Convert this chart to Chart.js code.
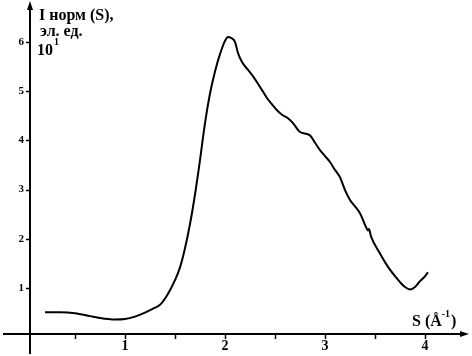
<!DOCTYPE html>
<html>
<head>
<meta charset="utf-8">
<script src="https://cdn.jsdelivr.net/npm/chart.js@4"></script>
<style>
  html, body { margin: 0; padding: 0; background: #fff; }
  #wrap { width: 472px; height: 356px; }
</style>
</head>
<body>
<div id="wrap"><canvas id="chart"></canvas></div>
<script>
// Данные кривой I(S)
const sValues = [0.2, 0.35, 0.5, 0.65, 0.75, 0.9, 1.0, 1.1, 1.2, 1.3, 1.35, 1.42, 1.5, 1.55, 1.6, 1.65, 1.7, 1.75,
  1.8, 1.85, 1.9, 1.95, 2.0, 2.03, 2.06, 2.1, 2.13, 2.17, 2.23, 2.27, 2.32, 2.37, 2.42, 2.47, 2.52,
  2.57, 2.63, 2.68, 2.75, 2.85, 2.9, 2.95, 3.0, 3.05, 3.1, 3.15, 3.2, 3.25, 3.3, 3.35, 3.41, 3.43, 3.44, 3.46, 3.55,
  3.62, 3.7, 3.75, 3.8, 3.85, 3.9, 3.95, 4.0, 4.03];
const intensity = [0.51, 0.51, 0.49, 0.43, 0.39, 0.36, 0.37, 0.42, 0.5, 0.6, 0.66, 0.85, 1.16, 1.42, 1.81, 2.3, 2.9, 3.6,
  4.35, 4.95, 5.4, 5.75, 6.02, 6.1, 6.08, 6.0, 5.77, 5.59, 5.43, 5.33, 5.18, 5.02, 4.86, 4.73, 4.61,
  4.52, 4.45, 4.35, 4.17, 4.1, 3.95, 3.8, 3.68, 3.56, 3.4, 3.25, 2.99, 2.79, 2.66, 2.52, 2.24, 2.17, 2.2, 2.05, 1.7,
  1.46, 1.24, 1.12, 1.02, 0.97, 1.02, 1.14, 1.24, 1.32];

const yTickValues = [1, 2, 3, 4, 5, 6];
const xTickLabels = [1, 2, 3, 4];
const xMinorTicks = [0.5, 1, 1.5, 2, 2.5, 3, 3.5, 4];

// Оси рисуем вручную (со стрелками), положение берём из шкал
const axesPlugin = {
  id: 'axes',
  afterDraw(chart) {
    const ctx = chart.ctx;
    const xs = chart.scales.x;
    const ys = chart.scales.y;
    const x0 = Math.round(xs.getPixelForValue(0.05));
    const y0 = Math.round(ys.getPixelForValue(0.06));
    ctx.save();
    ctx.strokeStyle = '#000';
    ctx.fillStyle = '#000';
    ctx.lineWidth = 2;

    // вертикальная ось
    ctx.beginPath();
    ctx.moveTo(x0, 4);
    ctx.lineTo(x0, 354);
    ctx.stroke();
    ctx.beginPath();
    ctx.moveTo(x0, 1);
    ctx.lineTo(x0 - 3, 10);
    ctx.lineTo(x0 + 3, 10);
    ctx.closePath();
    ctx.fill();

    // горизонтальная ось
    ctx.beginPath();
    ctx.moveTo(3, y0);
    ctx.lineTo(464, y0);
    ctx.stroke();
    ctx.beginPath();
    ctx.moveTo(469, y0);
    ctx.lineTo(460, y0 - 3);
    ctx.lineTo(460, y0 + 3);
    ctx.closePath();
    ctx.fill();

    // деления
    ctx.lineWidth = 1.5;
    yTickValues.forEach(v => {
      const py = Math.round(ys.getPixelForValue(v)) + 0.5;
      ctx.beginPath();
      ctx.moveTo(x0 - 4, py);
      ctx.lineTo(x0, py);
      ctx.stroke();
    });
    xMinorTicks.forEach(v => {
      const px = Math.round(xs.getPixelForValue(v)) + 0.5;
      ctx.beginPath();
      ctx.moveTo(px, y0);
      ctx.lineTo(px, y0 + 5);
      ctx.stroke();
    });

    // подписи делений
    ctx.font = 'bold 11px "Liberation Serif", serif';
    ctx.textAlign = 'right';
    ctx.textBaseline = 'middle';
    yTickValues.forEach(v => {
      ctx.fillText(String(v), x0 - 6, ys.getPixelForValue(v));
    });
    ctx.font = 'bold 14px "Liberation Serif", serif';
    ctx.textAlign = 'center';
    ctx.textBaseline = 'top';
    xTickLabels.forEach(v => {
      ctx.fillText(String(v), xs.getPixelForValue(v), y0 + 5);
    });

    // подписи осей
    ctx.textAlign = 'left';
    ctx.textBaseline = 'alphabetic';
    ctx.font = 'bold 16px "Liberation Serif", serif';
    ctx.fillText('I норм (S),', 39, 20);
    ctx.fillText('эл. ед.', 40, 36);
    ctx.fillText('10', 37, 55);
    ctx.font = 'bold 10px "Liberation Serif", serif';
    ctx.fillText('1', 54, 45);
    ctx.font = 'bold 16px "Liberation Serif", serif';
    ctx.fillText('S (Å', 412, 326);
    const w = ctx.measureText('S (Å').width;
    ctx.font = 'bold 10px "Liberation Serif", serif';
    ctx.fillText('-1', 412 + w, 317);
    const w2 = ctx.measureText('-1').width;
    ctx.font = 'bold 16px "Liberation Serif", serif';
    ctx.fillText(')', 412 + w + w2 + 1, 326);
    ctx.restore();
  }
};

document.addEventListener('DOMContentLoaded', function() {
  const points = sValues.map((s, i) => ({ x: s, y: intensity[i] }));
  new Chart(document.getElementById('chart'), {
    type: 'scatter',
    data: {
      datasets: [{
        data: points,
        showLine: true,
        borderColor: '#000',
        borderWidth: 2,
        pointRadius: 0,
        cubicInterpolationMode: 'monotone'
      }]
    },
    options: {
      responsive: true,
      maintainAspectRatio: false,
      animation: false,
      layout: { padding: 0 },
      plugins: {
        legend: { display: false },
        tooltip: { enabled: false }
      },
      scales: {
        x: { type: 'linear', min: -0.25, max: 4.47, display: false },
        y: { type: 'linear', min: -0.38, max: 6.85, display: false }
      }
    },
    plugins: [axesPlugin]
  });
});
</script>
</body>
</html>
